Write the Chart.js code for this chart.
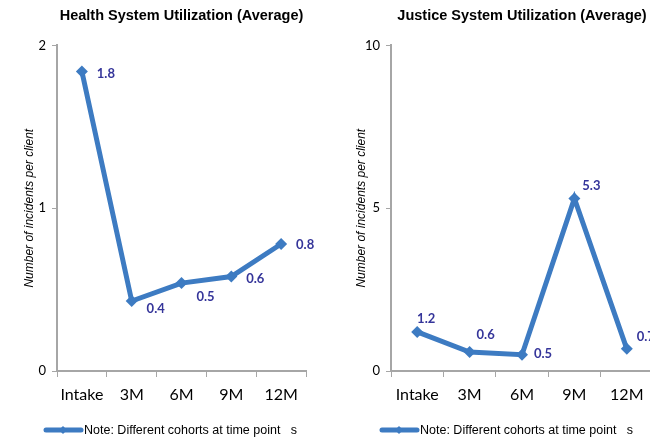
<!DOCTYPE html>
<html>
<head>
<meta charset="utf-8">
<script src="https://cdn.jsdelivr.net/npm/chart.js@4"></script>
<style>
  html, body { margin: 0; padding: 0; background: #fff; overflow: hidden; }
  body { width: 650px; height: 440px; position: relative; }
  .box { position: absolute; top: 0; height: 440px; }
  #healthBox { left: 0; width: 330px; }
  #justiceBox { left: 330px; width: 340px; }
</style>
</head>
<body>
<div class="box" id="healthBox"><canvas id="health"></canvas></div>
<div class="box" id="justiceBox"><canvas id="justice"></canvas></div>
<script>
const categories = ["Intake", "3M", "6M", "9M", "12M"];
const healthValues = [1.84, 0.43, 0.54, 0.58, 0.78];
const justiceValues = [1.2, 0.58, 0.5, 5.3, 0.68];
const legendText = "Note: Different cohorts at time point   s";
const yTitle = "Number of incidents per client";

const lineColor = "#3d7bc2";
const labelColor = "#35359a";
const axisColor = "#a6a6a6";

// where each value label sits, relative to its point
const healthLabelOffsets = [[24, 2], [24, 8], [24, 14], [24, 2], [24, 1]];
const justiceLabelOffsets = [[9, -13], [16, -17], [21, -1], [17, -13], [19, -12]];

const valueLabels = {
    id: "valueLabels",
    afterDatasetsDraw(chart, args, opts) {
        const ctx = chart.ctx;
        const meta = chart.getDatasetMeta(0);
        const data = chart.data.datasets[0].data;
        ctx.save();
        ctx.font = "bold 13px Lato";
        ctx.fillStyle = labelColor;
        ctx.textAlign = "center";
        ctx.textBaseline = "middle";
        meta.data.forEach((pt, i) => {
            const off = opts.offsets[i];
            ctx.fillText(data[i].toFixed(1), pt.x + off[0], pt.y + off[1]);
        });
        ctx.restore();
    }
};

// legend row under the chart: thick line, small diamond, note text
const noteLegend = {
    id: "noteLegend",
    afterDraw(chart, args, opts) {
        const ctx = chart.ctx;
        const x0 = chart.chartArea.left + opts.dx;
        const y = opts.y;
        ctx.save();
        ctx.strokeStyle = lineColor;
        ctx.lineWidth = 5;
        ctx.lineCap = "round";
        ctx.beginPath();
        ctx.moveTo(x0 + 2, y);
        ctx.lineTo(x0 + 37, y);
        ctx.stroke();
        ctx.fillStyle = lineColor;
        const cx = x0 + 19;
        ctx.beginPath();
        ctx.moveTo(cx, y - 4);
        ctx.lineTo(cx + 4, y);
        ctx.lineTo(cx, y + 4);
        ctx.lineTo(cx - 4, y);
        ctx.closePath();
        ctx.fill();
        ctx.fillStyle = "#000";
        ctx.font = "12.5px Liberation Sans";
        ctx.textBaseline = "middle";
        ctx.fillText(chart.data.datasets[0].label, x0 + 40, y + 1);
        ctx.restore();
    }
};

function makeChart(el, title, values, yMax, yStep, offsets, padL, padR, yWidth, legendDx) {
    return new Chart(el, {
        type: "line",
        data: {
            labels: categories,
            datasets: [{
                label: legendText,
                data: values,
                borderColor: lineColor,
                backgroundColor: lineColor,
                borderWidth: 5,
                pointStyle: "rectRot",
                pointRadius: 6,
                pointBorderWidth: 0,
                pointBackgroundColor: lineColor,
                tension: 0
            }]
        },
        options: {
            responsive: true,
            maintainAspectRatio: false,
            animation: false,
            layout: { padding: { left: padL, right: padR, top: 0, bottom: 17 } },
            plugins: {
                title: {
                    display: true,
                    text: title,
                    fullSize: false,
                    color: "#000",
                    font: { family: "Liberation Sans", size: 14.5, weight: "bold" },
                    padding: { top: 7, bottom: 21 }
                },
                legend: { display: false },
                tooltip: { enabled: false },
                valueLabels: { offsets: offsets },
                noteLegend: { dx: legendDx, y: 430 }
            },
            scales: {
                x: {
                    offset: true,
                    afterFit(scale) { scale.height = 52; },
                    grid: {
                        offset: true,
                        drawOnChartArea: false,
                        color: axisColor,
                        tickLength: 6
                    },
                    border: { color: axisColor, width: 2 },
                    ticks: {
                        color: "#000",
                        font: { family: "Lato", size: 16 },
                        maxRotation: 0,
                        padding: 8
                    }
                },
                y: {
                    min: 0,
                    max: yMax,
                    afterFit(scale) { scale.width = yWidth; },
                    grid: {
                        drawOnChartArea: false,
                        color: axisColor,
                        tickLength: 5
                    },
                    border: { color: axisColor, width: 2 },
                    ticks: {
                        stepSize: yStep,
                        color: "#000",
                        font: { family: "Lato", size: 13 },
                        padding: 6
                    },
                    title: {
                        display: true,
                        text: yTitle,
                        color: "#000",
                        font: { family: "Liberation Sans", size: 12, style: "italic" },
                        padding: 0
                    }
                }
            }
        },
        plugins: [valueLabels, noteLegend]
    });
}

makeChart(document.getElementById("health"), "Health System Utilization (Average)",
    healthValues, 2, 1, healthLabelOffsets, 22, 24, 35, -13);
makeChart(document.getElementById("justice"), "Justice System Utilization (Average)",
    justiceValues, 10, 5, justiceLabelOffsets, 24, 17, 37, -11);
</script>
</body>
</html>
